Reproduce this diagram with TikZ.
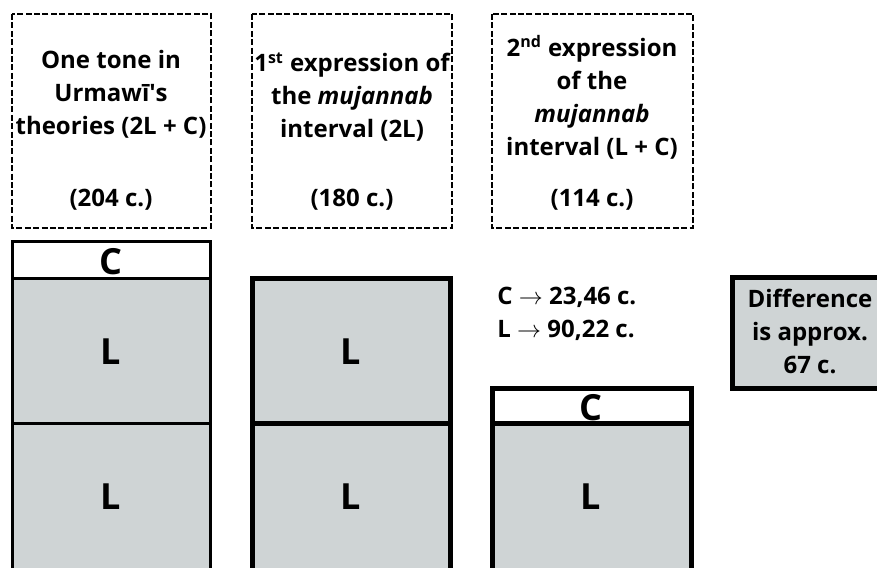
\documentclass[tikz,border=0pt]{standalone}
\usepackage{fontspec}
\setmainfont{Open Sans}
\usepackage{tikz}

\definecolor{cellgray}{RGB}{207,212,213}

\begin{document}
\begin{tikzpicture}[x=0.5pt,y=-0.5pt,
    note/.style={draw, line width=1.3pt, dash pattern=on 3pt off 1.2pt},
    cell/.style={draw, fill=cellgray},
    txt/.style={font=\fontsize{12}{16.5}\selectfont\bfseries, align=center, inner sep=0pt},
    big/.style={font=\fontsize{18}{20}\selectfont\bfseries, inner sep=0pt}]
    \useasboundingbox (0,0) rectangle (877,567);
    \clip (0,0) rectangle (877,567);

    % 虚线说明框
    \draw[note] (12,14) rectangle (211,228);
    \draw[note] (252,14) rectangle (452,228);
    \draw[note] (492,14) rectangle (693,228);
    \node[txt] (tone) at (111,94) {One tone in\\Urmawī\textquotesingle s\\theories (2L + C)};
    \node[txt] (first) at (352,97) {1\textsuperscript{st} expression of\\the \textit{mujannab}\\interval (2L)};
    \node[txt] (second) at (592,97) {2\textsuperscript{nd} expression\\of the\\\textit{mujannab}\\interval (L + C)};
    \foreach \x/\v/\n in {111/204/a,352/180/b,592/114/c}
        \node[txt] (cents\n) at (\x,200) {(\v{} c.)};

    % 第一列 2L + C
    \draw[cell, fill=white, line width=1.5pt] (12,241) rectangle (210,278);
    \draw[cell, line width=1.5pt] (12,278) rectangle (210,423);
    \draw[cell, line width=1.5pt] (12,423) rectangle (210,580);
    \node[big] (c1) at (111,262) {C};
    \node[big] (l1a) at (111,352) {L};
    \node[big] (l1b) at (111,497) {L};

    % 第二列 2L
    \draw[cell, line width=2.5pt] (252,278) rectangle (450,423);
    \draw[cell, line width=2.5pt] (252,423) rectangle (450,580);
    \node[big] (l2a) at (351,352) {L};
    \node[big] (l2b) at (351,497) {L};

    % 第三列 L + C
    \draw[cell, fill=white, line width=2.5pt] (492,388) rectangle (691,423);
    \draw[cell, line width=2.5pt] (492,423) rectangle (691,580);
    \node[big] (c3) at (591,408) {C};
    \node[big] (l3) at (591,497) {L};

    % 数值
    \node[txt, anchor=west] (cval) at (497,297) {C $\rightarrow$ 23,46 c.};
    \node[txt, anchor=west] (lval) at (497,330) {L $\rightarrow$ 90,22 c.};

    % 差值框
    \draw[cell, line width=2.5pt] (732,277) rectangle (890,388);
    \node[txt] (diff) at (810,331) {Difference\\is approx.\\67 c.};
\end{tikzpicture}
\end{document}
